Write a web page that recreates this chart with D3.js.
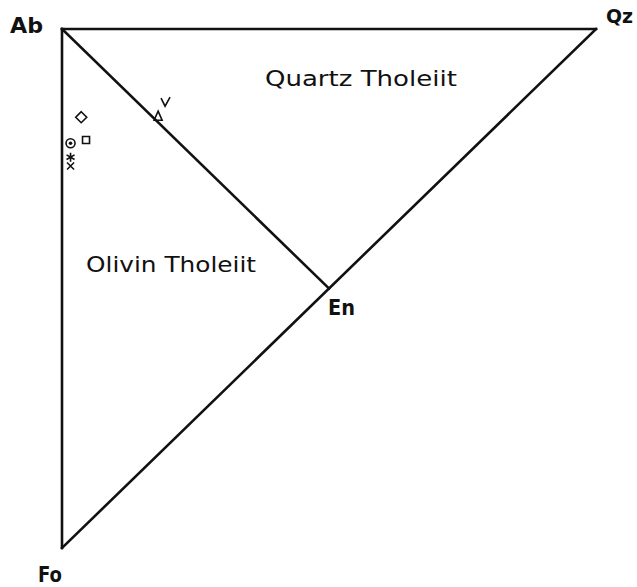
<!DOCTYPE html>
<html>
<head>
<meta charset="utf-8">
<script src="https://cdn.jsdelivr.net/npm/d3@7"></script>
<style>
  html, body { margin: 0; padding: 0; background: #fff; }
  svg text { font-family: "DejaVu Sans", sans-serif; fill: #111; }
</style>
</head>
<body>
<div id="chart"></div>
<script>
    // ---- data: ternary fractions (Qz, Fo); Ab = 1 - Qz - Fo ----
    const vertexNames = ["Ab", "Qz", "Fo", "En"];
    const vertexQz = [0, 1, 0, 0.5];
    const vertexFo = [0, 0, 1, 0.5];

    const sampleSymbols = ["diamond", "square", "circledot", "asterisk", "cross", "vee", "triangle"];
    const sampleQz = [0.036, 0.045, 0.016, 0.016, 0.016, 0.193, 0.18];
    const sampleFo = [0.170, 0.214, 0.220, 0.247, 0.264, 0.141, 0.168];

    const fieldNames = ["Quartz Tholeiit", "Olivin Tholeiit"];
    const fieldQz = [0.38, 0.045];
    const fieldFo = [0.11, 0.468];

    // ---- setup ----
    const width = 637, height = 587;
    const x = d3.scaleLinear().domain([0, 1]).range([62, 596]);
    const y = d3.scaleLinear().domain([0, 1]).range([29, 548]);

    const svg = d3.select("#chart").append("svg")
      .attr("width", width)
      .attr("height", height);

    const V = {};
    vertexNames.forEach((n, i) => { V[n] = [x(vertexQz[i]), y(vertexFo[i])]; });

    // ---- triangle + Ab-En divide ----
    const edges = [["Ab", "Qz"], ["Qz", "Fo"], ["Fo", "Ab"], ["Ab", "En"]];
    svg.append("g")
      .selectAll("line")
      .data(edges)
      .join("line")
      .attr("x1", d => V[d[0]][0])
      .attr("y1", d => V[d[0]][1])
      .attr("x2", d => V[d[1]][0])
      .attr("y2", d => V[d[1]][1])
      .attr("stroke", "#111")
      .attr("stroke-width", 2.6)
      .attr("stroke-linecap", "square");

    // ---- vertex labels: [x, baseline, width, size] ----
    const labelPos = {
      Ab: [10, 33, 33, 22],
      Qz: [606, 23, 27, 20],
      Fo: [38, 582, 24, 22],
      En: [328, 315, 27, 22]
    };
    svg.append("g")
      .selectAll("text")
      .data(vertexNames)
      .join("text")
      .attr("x", d => labelPos[d][0])
      .attr("y", d => labelPos[d][1])
      .attr("font-size", d => labelPos[d][3])
      .attr("font-weight", "bold")
      .attr("textLength", d => labelPos[d][2])
      .attr("lengthAdjust", "spacingAndGlyphs")
      .text(d => d);

    // ---- field labels ----
    svg.append("g")
      .selectAll("text")
      .data(fieldNames)
      .join("text")
      .attr("x", (d, i) => x(fieldQz[i]))
      .attr("y", (d, i) => y(fieldFo[i]))
      .attr("font-size", 22)
      .attr("textLength", (d, i) => i === 0 ? 192 : 170)
      .attr("lengthAdjust", "spacingAndGlyphs")
      .text(d => d);

    // ---- sample symbols ----
    function symbolPath(s) {
      switch (s) {
        case "diamond": return "M0,-5.5L5.5,0L0,5.5L-5.5,0Z";
        case "square": return "M-3.5,-3.5H3.5V3.5H-3.5Z";
        case "circledot": return "M-4.5,0A4.5,4.5 0 1,0 4.5,0A4.5,4.5 0 1,0 -4.5,0Z";
        case "asterisk": return "M0,-4.5V4.5M-4,-2.3L4,2.3M-4,2.3L4,-2.3";
        case "cross": return "M-3.5,-3.5L3.5,3.5M-3.5,3.5L3.5,-3.5";
        case "vee": return "M-4,-4L0,4L5,-5";
        case "triangle": return "M0,-5L4,4H-4Z";
      }
    }
    const pts = svg.append("g")
      .selectAll("g")
      .data(sampleSymbols)
      .join("g")
      .attr("transform", (d, i) => `translate(${x(sampleQz[i])},${y(sampleFo[i])})`);

    pts.append("path")
      .attr("d", d => symbolPath(d))
      .attr("fill", "none")
      .attr("stroke", "#111")
      .attr("stroke-width", 1.6);

    pts.filter(d => d === "circledot")
      .append("circle")
      .attr("r", 1.8)
      .attr("fill", "#111");
</script>
</body>
</html>
